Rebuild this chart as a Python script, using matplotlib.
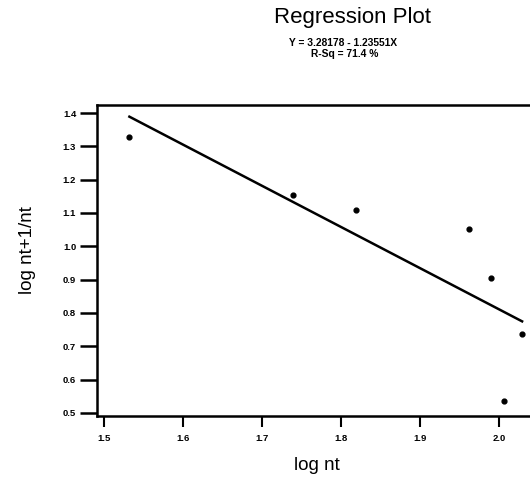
"""Regression plot of log nt+1/nt against log nt"""

import numpy as np
import matplotlib
matplotlib.use("Agg")
import matplotlib.pyplot as plt

# data
log_nt = [1.532, 1.739, 1.819, 1.962, 1.990, 2.006, 2.029]
log_ratio = [1.328, 1.154, 1.109, 1.052, 0.904, 0.535, 0.736]
intercept = 3.28178
slope = -1.23551
r_sq = 71.4

x_ticks = [1.5, 1.6, 1.7, 1.8, 1.9, 2.0]
y_ticks = [0.5, 0.6, 0.7, 0.8, 0.9, 1.0, 1.1, 1.2, 1.3, 1.4]

plt.rcParams["font.family"] = ["Liberation Sans", "DejaVu Sans"]

fig = plt.figure(figsize=(5.30, 4.83), dpi=100)
W, H = 530, 483
ax = fig.add_axes([97 / W, 1 - 416 / H, (W - 97) / W, (416 - 105) / H])

# fitted line over the data range
xs = np.array([min(log_nt), max(log_nt)])
ax.plot(xs, intercept + slope * xs, color="black", lw=1.8)
ax.scatter(log_nt, log_ratio, s=12, color="black", zorder=3)

ax.set_xlim(1.491, 2.039)
ax.set_ylim(0.491, 1.424)
ax.set_xticks(x_ticks)
ax.set_xticklabels(["%.1f" % v for v in x_ticks])
ax.set_yticks(y_ticks)
ax.set_yticklabels(["%.1f" % v for v in y_ticks])

ax.spines["right"].set_visible(False)
for side in ["left", "bottom", "top"]:
    ax.spines[side].set_linewidth(1.8)

ax.tick_params(axis="y", direction="out", length=12, width=1.8,
               labelsize=6.8, pad=3)
ax.tick_params(axis="x", direction="out", length=8, width=1.5,
               labelsize=6.8, pad=5)
for lab in ax.get_xticklabels() + ax.get_yticklabels():
    lab.set_fontweight("bold")

fig.text(28 / W, 1 - 250 / H, "log nt+1/nt", rotation=90, fontsize=13.5,
         ha="center", va="center")
fig.text(317 / W, 1 - 465 / H, "log nt", fontsize=13.5,
         ha="center", va="center")

fig.text(352 / W, 1 - 18 / H, "Regression Plot", fontsize=16,
         ha="center", va="center")
fig.text(343 / W, 1 - 43 / H, "Y = %.5f - %.5fX" % (intercept, -slope),
         fontsize=7.4, fontweight="bold", ha="center", va="center")
fig.text(345 / W, 1 - 54 / H, "R-Sq = %.1f %%" % r_sq,
         fontsize=7.4, fontweight="bold", ha="center", va="center")

fig.savefig("out.png", dpi=100)
